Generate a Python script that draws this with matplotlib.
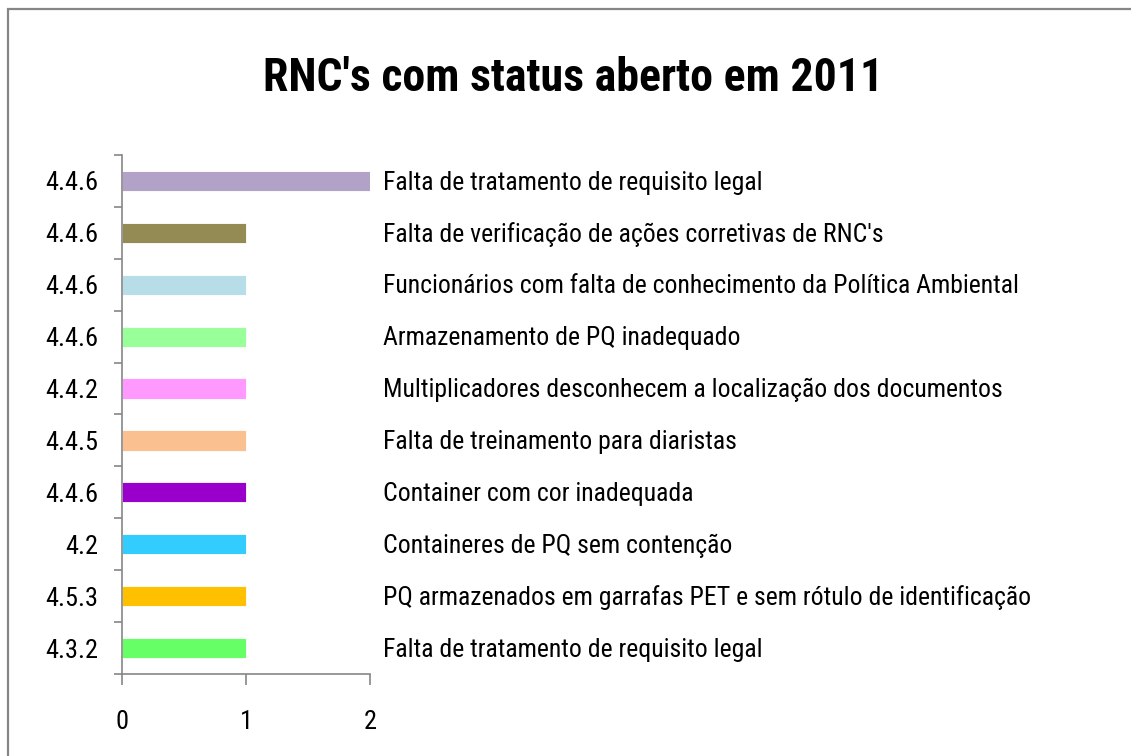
import matplotlib
matplotlib.use("Agg")
import matplotlib.pyplot as plt
from matplotlib.patches import Rectangle
import matplotlib.transforms as mtransforms

# data, listed bottom to top
codes = ["4.3.2", "4.5.3", "4.2", "4.4.6", "4.4.5", "4.4.2", "4.4.6", "4.4.6", "4.4.6", "4.4.6"]
descriptions = [
    "Falta de tratamento de requisito legal",
    "PQ armazenados em garrafas PET e sem rótulo de identificação",
    "Containeres de PQ sem contenção",
    "Container com cor inadequada",
    "Falta de treinamento para diaristas",
    "Multiplicadores desconhecem a localização dos documentos",
    "Armazenamento de PQ inadequado",
    "Funcionários com falta de conhecimento da Política Ambiental",
    "Falta de verificação de ações corretivas de RNC's",
    "Falta de tratamento de requisito legal",
]
counts = [1, 1, 1, 1, 1, 1, 1, 1, 1, 2]
bar_colors = ["#66FF66", "#FFC000", "#33CCFF", "#9900CC", "#FAC090",
              "#FF99FF", "#99FF99", "#B7DEE8", "#948A54", "#B3A2C7"]
x_ticks = [0, 1, 2]

cond = ["Roboto Condensed", "Liberation Sans", "DejaVu Sans"]
grey = "#868686"

W, H = 1131, 756
fig = plt.figure(figsize=(W / 100, H / 100), dpi=100)

# outer chart frame (only top and left edges show)
fig.patches.append(Rectangle((8 / W, -0.1), 1.2, (H - 9) / H + 0.1,
                             transform=fig.transFigure, fill=False,
                             edgecolor=grey, linewidth=1.6))

ax = fig.add_axes([122 / W, (H - 674) / H, 248 / W, 519 / H])
pos = list(range(len(counts)))
ax.barh(pos, counts, height=0.39, color=bar_colors, edgecolor="white", linewidth=0.6)

ax.set_xlim(0, 2)
ax.set_ylim(-0.5, len(counts) - 0.5)

for s in ["top", "right"]:
    ax.spines[s].set_visible(False)
for s in ["left", "bottom"]:
    ax.spines[s].set_color(grey)
    ax.spines[s].set_linewidth(1.2)

ax.set_xticks(x_ticks)
ax.set_xticklabels([str(t) for t in x_ticks], family=cond, fontsize=19)
ax.tick_params(axis="x", direction="out", length=8, width=1.2, color=grey, pad=18)

ax.set_yticks([p - 0.5 for p in pos] + [len(pos) - 0.5])
ax.set_yticklabels([])
ax.tick_params(axis="y", which="major", direction="out", length=6, width=1.2, color=grey)
ax.set_yticks(pos, minor=True)
ax.set_yticklabels(codes, minor=True, family=cond, fontsize=19)
ax.tick_params(axis="y", which="minor", length=0, pad=17)

lbl_tr = mtransforms.blended_transform_factory(ax.transAxes, ax.transData)
for p, txt in zip(pos, descriptions):
    ax.text(1.052, p - 0.03, txt, transform=lbl_tr, ha="left", va="center",
            family=cond, fontsize=18.5, clip_on=False)

fig.text(0.507, 0.897, "RNC's com status aberto em 2011", ha="center", va="center",
         family=cond, fontsize=33, fontweight="bold")

fig.savefig("out.png", dpi=100)
